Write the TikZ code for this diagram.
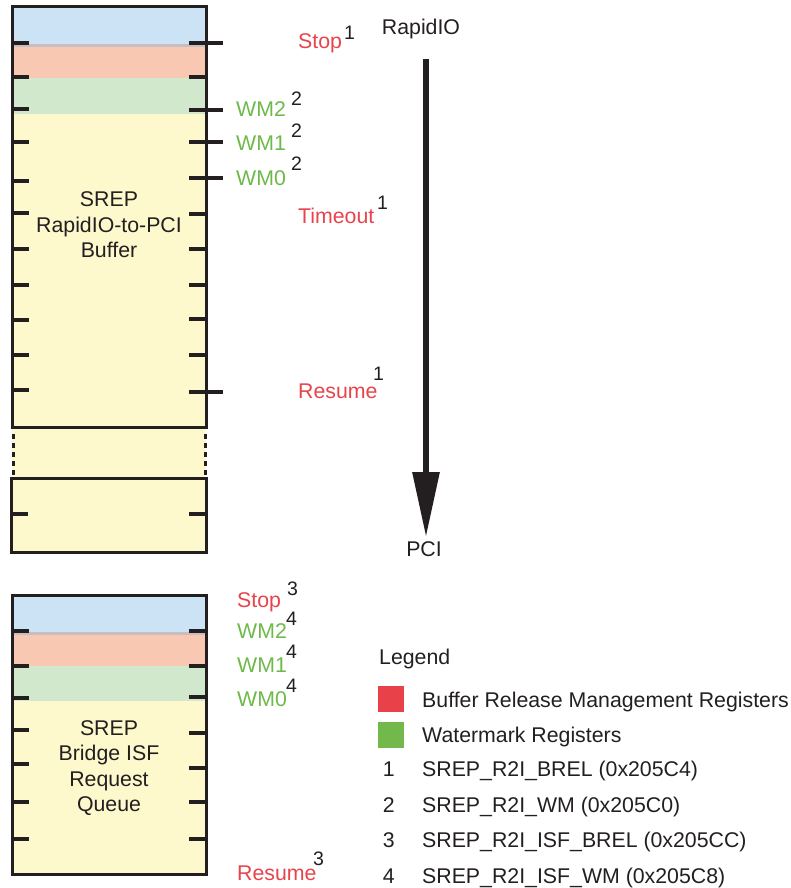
\documentclass[tikz,border=0pt]{standalone}
\usepackage{fontspec}
\setmainfont{Liberation Sans}
\usetikzlibrary{arrows.meta}
\definecolor{bandblue}{HTML}{CCE2F5}
\definecolor{bandred}{HTML}{F9C8B3}
\definecolor{bandgreen}{HTML}{D1E8CC}
\definecolor{bandyellow}{HTML}{FEF9CD}
\definecolor{sepgray}{HTML}{C8BEC0}
\definecolor{txtred}{HTML}{E8434B}
\definecolor{txtgreen}{HTML}{6DB94A}
\definecolor{legred}{HTML}{E8414A}
\definecolor{leggreen}{HTML}{73B84B}
\definecolor{ink}{HTML}{231F20}
\tikzset{
  lbl/.style={anchor=base west, inner sep=0pt, text=ink},
  redlbl/.style={lbl, text=txtred},
  greenlbl/.style={lbl, text=txtgreen},
  supnum/.style={anchor=base west, inner sep=0pt, text=ink, font=\fontsize{19.5}{22}\selectfont},
  legnum/.style={anchor=base east, inner sep=0pt, text=ink},
  tickmark/.style={draw=ink, line width=3.2},
  frame/.style={draw=ink, line width=3},
  boxtext/.style={align=center, text=ink, inner sep=0pt},
  legsq/.style={minimum size=26pt, inner sep=0pt},
}
\begin{document}
\begin{tikzpicture}[x=1pt,y=-1pt,font=\fontsize{21.3}{25.5}\selectfont]
\useasboundingbox (0,0) rectangle (791,888);
% ---------- top buffer ----------
\fill[bandyellow] (12,7) rectangle (206,552);
\fill[bandblue] (12,7) rectangle (206,44);
\fill[sepgray] (12,44) rectangle (206,47);
\fill[bandred] (12,47) rectangle (206,78);
\fill[bandgreen] (12,78) rectangle (206,114);
\foreach \y in {43,77,109,142,181,213,249,285,320,355,390}
  \draw[tickmark] (12,\y) -- (29,\y);
\foreach \y in {77,214,249,285,319,355}
  \draw[tickmark] (189,\y) -- (206,\y);
\foreach \y in {43,110,142,178,392}
  \draw[tickmark] (189,\y) -- (223,\y);
\draw[frame] (12,7) rectangle (206,427);
\draw[ink, line width=3, dash pattern=on 5pt off 4pt] (13,434) -- (13,475);
\draw[ink, line width=3, dash pattern=on 5pt off 4pt] (205,434) -- (205,475);
\draw[frame] (11,478) rectangle (206,552);
\draw[tickmark] (11,514) -- (28,514);
\draw[tickmark] (189,514) -- (206,514);
\node[boxtext] (buftitle) at (109,225) {SREP\\RapidIO-to-PCI\\Buffer};
% top labels
\node[redlbl] (stopA) at (298,49) {Stop};
\node[supnum] (stopAn) at (344,40) {1};
\node[greenlbl] (wm2A) at (236,117) {WM2};
\node[supnum] (wm2An) at (291,106) {2};
\node[greenlbl] (wm1A) at (236,150) {WM1};
\node[supnum] (wm1An) at (291,138) {2};
\node[greenlbl] (wm0A) at (236,185) {WM0};
\node[supnum] (wm0An) at (291,170) {2};
\node[redlbl] (toA) at (298,223) {Timeout};
\node[supnum] (toAn) at (377,209) {1};
\node[redlbl] (resA) at (298,398) {Resume};
\node[supnum] (resAn) at (373,380) {1};
% ---------- arrow ----------
\node[lbl, anchor=base] (rio) at (421,35) {RapidIO};
\node[lbl, anchor=base] (pci) at (424,556) {PCI};
\coordinate (astart) at (426,59);
\coordinate (aend) at (426,537);
\draw[ink, line width=6, -{Triangle[length=65pt,width=26pt]}] (astart) -- (aend);
% ---------- bottom queue ----------
\fill[bandyellow] (12,595) rectangle (206,874);
\fill[bandblue] (12,595) rectangle (206,632);
\fill[sepgray] (12,632) rectangle (206,635);
\fill[bandred] (12,635) rectangle (206,666);
\fill[bandgreen] (12,666) rectangle (206,701);
\foreach \y in {631,666,698,730,764,802,839}
  \draw[tickmark] (12,\y) -- (29,\y);
\foreach \y in {631,666,697,733,768,802,839}
  \draw[tickmark] (189,\y) -- (206,\y);
\draw[frame] (12,595) rectangle (206,874);
\node[boxtext] (qtitle) at (109,768) {SREP\\Bridge ISF\\Request\\Queue};
\node[redlbl] (stopB) at (237,607) {Stop};
\node[supnum] (stopBn) at (287,595) {3};
\node[greenlbl] (wm2B) at (237,638) {WM2};
\node[supnum] (wm2Bn) at (286,625) {4};
\node[greenlbl] (wm1B) at (237,672) {WM1};
\node[supnum] (wm1Bn) at (286,658) {4};
\node[greenlbl] (wm0B) at (237,706) {WM0};
\node[supnum] (wm0Bn) at (286,692) {4};
\node[redlbl] (resB) at (237,880) {Resume};
\node[supnum] (resBn) at (313,865) {3};
% ---------- legend ----------
\node[lbl] (leg) at (379,664) {Legend};
\node[legsq, fill=legred] (sqr) at (391,699) {};
\node[legsq, fill=leggreen] (sqg) at (391,734.5) {};
\node[lbl] (legA) at (422,707) {Buffer Release Management Registers};
\node[lbl] (legB) at (422,742) {Watermark Registers};
\node[legnum] (n1) at (395,776) {1};
\node[lbl] (l1) at (422,776) {SREP\_R2I\_BREL (0x205C4)};
\node[legnum] (n2) at (395,812) {2};
\node[lbl] (l2) at (422,812) {SREP\_R2I\_WM (0x205C0)};
\node[legnum] (n3) at (395,847) {3};
\node[lbl] (l3) at (422,847) {SREP\_R2I\_ISF\_BREL (0x205CC)};
\node[legnum] (n4) at (395,883) {4};
\node[lbl] (l4) at (422,883) {SREP\_R2I\_ISF\_WM (0x205C8)};
\end{tikzpicture}
\end{document}
